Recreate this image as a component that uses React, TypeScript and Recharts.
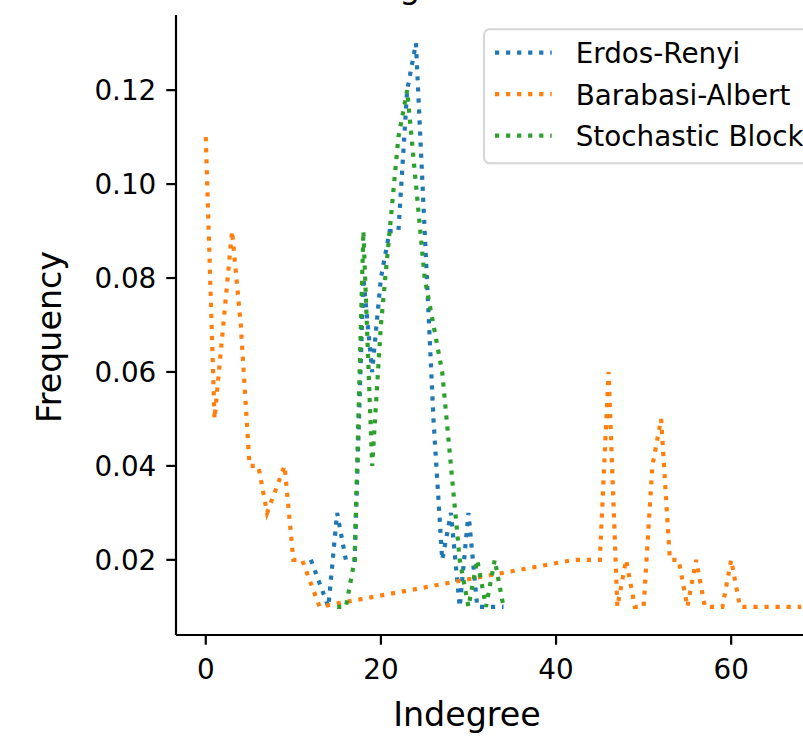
import { Customized, Line, LineChart, XAxis, YAxis } from "recharts";

// degree distributions (x = indegree, y = frequency)
const erdosRenyi = [
  { x: 12, y: 0.02 }, { x: 14, y: 0.01 }, { x: 15, y: 0.03 }, { x: 16, y: 0.02 },
  { x: 17, y: 0.02 }, { x: 18, y: 0.08 }, { x: 19, y: 0.06 }, { x: 20, y: 0.08 },
  { x: 21, y: 0.09 }, { x: 22, y: 0.09 }, { x: 23, y: 0.12 }, { x: 24, y: 0.13 },
  { x: 25, y: 0.09 }, { x: 26, y: 0.05 }, { x: 27, y: 0.02 }, { x: 28, y: 0.03 },
  { x: 29, y: 0.01 }, { x: 30, y: 0.03 }, { x: 31, y: 0.01 }, { x: 32, y: 0.01 },
  { x: 33, y: 0.01 }, { x: 34, y: 0.01 },
];

const barabasiAlbert = [
  { x: 0, y: 0.11 }, { x: 1, y: 0.05 }, { x: 2, y: 0.07 }, { x: 3, y: 0.09 },
  { x: 4, y: 0.07 }, { x: 5, y: 0.04 }, { x: 6, y: 0.04 }, { x: 7, y: 0.03 },
  { x: 9, y: 0.04 }, { x: 10, y: 0.02 }, { x: 11, y: 0.02 }, { x: 13, y: 0.01 },
  { x: 42, y: 0.02 }, { x: 45, y: 0.02 }, { x: 46, y: 0.06 }, { x: 47, y: 0.01 },
  { x: 48, y: 0.02 }, { x: 49, y: 0.01 }, { x: 50, y: 0.01 }, { x: 51, y: 0.04 },
  { x: 52, y: 0.05 }, { x: 53, y: 0.02 }, { x: 54, y: 0.02 }, { x: 55, y: 0.01 },
  { x: 56, y: 0.02 }, { x: 57, y: 0.01 }, { x: 59, y: 0.01 }, { x: 60, y: 0.02 },
  { x: 61, y: 0.01 }, { x: 68, y: 0.01 },
];

const stochasticBlock = [
  { x: 15, y: 0.01 }, { x: 16, y: 0.01 }, { x: 17, y: 0.02 }, { x: 18, y: 0.09 },
  { x: 19, y: 0.04 }, { x: 20, y: 0.07 }, { x: 21, y: 0.09 }, { x: 22, y: 0.11 },
  { x: 23, y: 0.12 }, { x: 24, y: 0.1 }, { x: 25, y: 0.08 }, { x: 26, y: 0.07 },
  { x: 27, y: 0.06 }, { x: 28, y: 0.04 }, { x: 29, y: 0.02 }, { x: 30, y: 0.01 },
  { x: 31, y: 0.02 }, { x: 32, y: 0.01 }, { x: 33, y: 0.02 }, { x: 34, y: 0.01 },
];

const xTicks = [0, 20, 40, 60];
const yTicks = [0.02, 0.04, 0.06, 0.08, 0.1, 0.12];

const seriesNames = ["Erdos-Renyi", "Barabasi-Albert", "Stochastic Block"];
const seriesColors = ["#1f77b4", "#ff7f0e", "#2ca02c"];

const FONT = "DejaVu Sans";
const DOTS = "4.17 6.88";
const SHIFT = 40; // chart is drawn 40px above the page so the clipped title fits

function Decorations() {
  return (
    <g fontFamily={FONT} fill="#000">
      <text x={503} y={38} fontSize={33.3} textAnchor="middle">Indegree Distribution</text>
      <text x={467} y={726 + SHIFT} fontSize={33.3} textAnchor="middle">Indegree</text>
      <text x={61} y={337 + SHIFT} fontSize={33.3} textAnchor="middle" transform={`rotate(-90, 61, ${337 + SHIFT})`}>
        Frequency
      </text>
      <rect x={484} y={29.3 + SHIFT} width={420} height={134} rx={5.5} fill="#fff" fillOpacity={0.8} stroke="#cccccc" strokeOpacity={0.8} strokeWidth={2} />
      {seriesNames.map((name, i) => {
        const cy = 52.7 + i * 41.5 + SHIFT;
        return (
          <g key={name}>
            <line x1={495} x2={551.7} y1={cy} y2={cy} stroke={seriesColors[i]} strokeWidth={4.17} strokeDasharray={DOTS} />
            <text x={575.7} y={cy + 10.6} fontSize={27.8}>{name}</text>
          </g>
        );
      })}
    </g>
  );
}

export default function App() {
  const axisStroke = { stroke: "#000", strokeWidth: 2.2 };
  const tickStyle = { fill: "#000", fontSize: 27.8, fontFamily: FONT };
  return (
    <div style={{ position: "absolute", left: 0, top: 0, width: 803, height: 739, overflow: "hidden", background: "#fff" }}>
      <div style={{ position: "absolute", left: 0, top: -SHIFT }}>
        <LineChart width={870} height={800} margin={{ top: 55, right: 39, bottom: 0, left: 0 }}>
          <XAxis
            type="number"
            dataKey="x"
            domain={[-3.4, 71.4]}
            ticks={xTicks}
            allowDataOverflow
            height={125}
            axisLine={axisStroke}
            tickLine={axisStroke}
            tickSize={9.7}
            tickMargin={14.6}
            tick={tickStyle}
          />
          <XAxis xAxisId="top" orientation="top" type="number" domain={[-3.4, 71.4]} height={0} tick={false} tickLine={false} axisLine={axisStroke} />
          <YAxis
            type="number"
            domain={[0.004, 0.136]}
            ticks={yTicks}
            allowDataOverflow
            width={176}
            axisLine={axisStroke}
            tickLine={axisStroke}
            tickSize={9.7}
            tickMargin={10}
            tick={tickStyle}
            tickFormatter={(v: number) => v.toFixed(2)}
          />
          <Line data={erdosRenyi} dataKey="y" type="linear" stroke={seriesColors[0]} strokeWidth={4.17} strokeDasharray={DOTS} dot={false} isAnimationActive={false} />
          <Line data={barabasiAlbert} dataKey="y" type="linear" stroke={seriesColors[1]} strokeWidth={4.17} strokeDasharray={DOTS} dot={false} isAnimationActive={false} />
          <Line data={stochasticBlock} dataKey="y" type="linear" stroke={seriesColors[2]} strokeWidth={4.17} strokeDasharray={DOTS} dot={false} isAnimationActive={false} />
          <Customized component={Decorations} />
        </LineChart>
      </div>
    </div>
  );
}
